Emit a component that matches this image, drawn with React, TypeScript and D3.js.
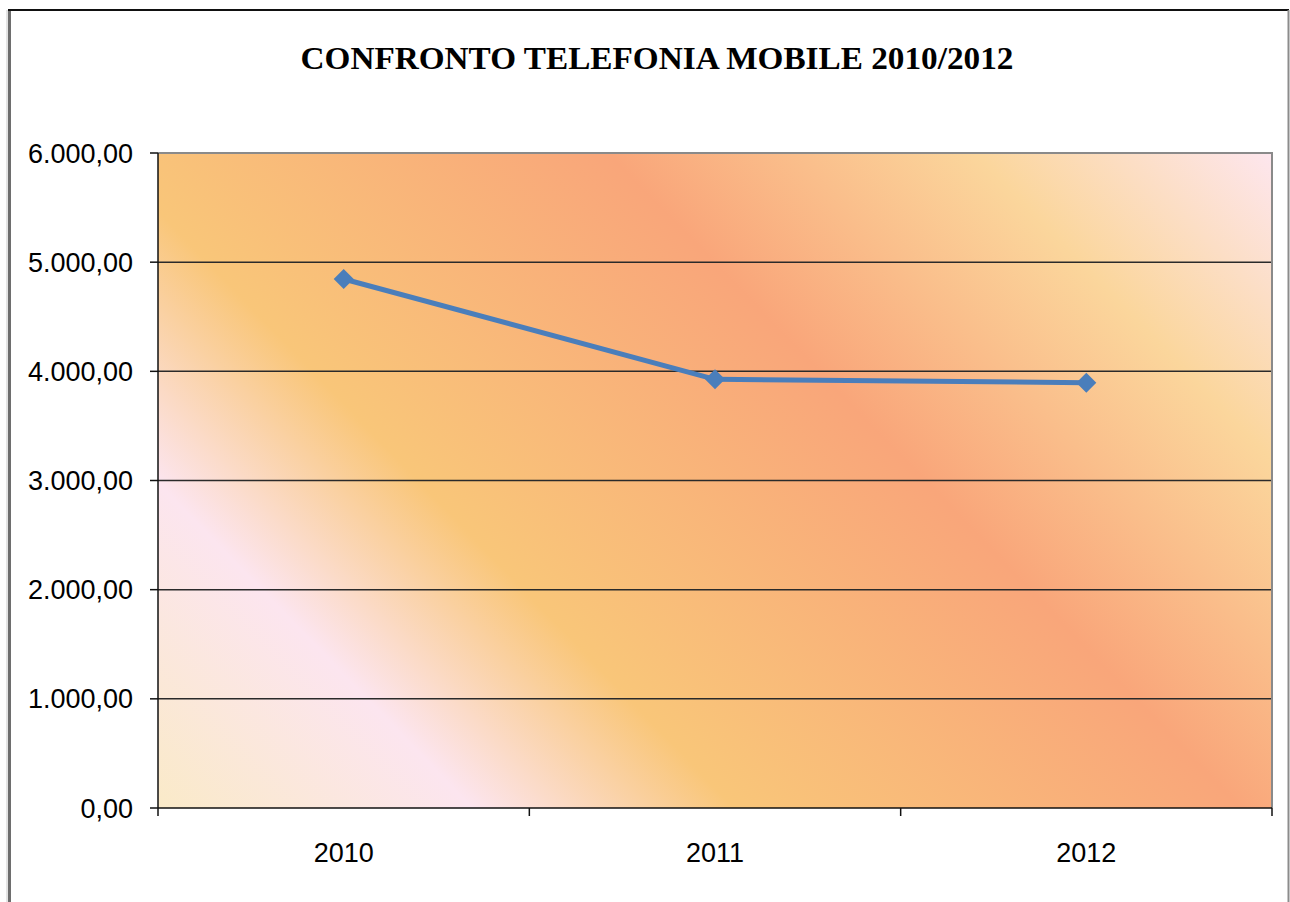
import React from "react";
import * as d3 from "d3";

const title = "CONFRONTO TELEFONIA MOBILE 2010/2012";
const categories = ["2010", "2011", "2012"];
const values = [4846, 3927, 3896];
const yTicks = [0, 1000, 2000, 3000, 4000, 5000, 6000];
const gradientStops = [
  { offset: 0, color: "#FAEAC8" },
  { offset: 0.18, color: "#FCE5EF" },
  { offset: 0.33, color: "#F9C679" },
  { offset: 0.62, color: "#F9A67A" },
  { offset: 0.83, color: "#FBD69C" },
  { offset: 1, color: "#FDE6EE" },
];

const W = 1290;
const H = 902;
const left = 158;
const right = 1272;
const top = 153;
const bottom = 808;

const fmt = (v: number) => {
  const s = v.toFixed(2);
  const [i, d] = s.split(".");
  return i.replace(/\B(?=(\d{3})+(?!\d))/g, ".") + "," + d;
};

export default function App() {
  const x = d3.scaleBand<string>().domain(categories).range([left, right]).padding(0);
  const y = d3.scaleLinear().domain([0, 6000]).range([bottom, top]);
  const cx = (c: string) => (x(c) as number) + x.bandwidth() / 2;
  const line = d3
    .line<number>()
    .x((_, i) => cx(categories[i]))
    .y((v) => y(v));

  const ang = (46 * Math.PI) / 180;
  const dx = Math.sin(ang);
  const dy = -Math.cos(ang);
  const span = dx * (right - left) + -dy * (bottom - top);
  const gx2 = left + dx * span;
  const gy2 = bottom + dy * span;

  const xTickPos = [left, ...categories.map((c) => (x(c) as number) + x.bandwidth())];
  const r = 10;

  return (
    <svg
      width={W}
      height={H}
      style={{ position: "absolute", left: 0, top: 0, background: "#fff" }}
    >
      <defs>
        <linearGradient
          id="bg"
          gradientUnits="userSpaceOnUse"
          x1={left}
          y1={bottom}
          x2={gx2}
          y2={gy2}
        >
          {gradientStops.map((s, i) => (
            <stop key={i} offset={s.offset} stopColor={s.color} />
          ))}
        </linearGradient>
      </defs>
      <line x1={7} y1={10} x2={7} y2={H} stroke="#c8c8c8" strokeWidth={1} />
      <line x1={9.5} y1={10} x2={9.5} y2={H} stroke="#6e6e6e" strokeWidth={3} />
      <line x1={8} y1={10} x2={1289} y2={10} stroke="#111" strokeWidth={2} />
      <line x1={1288.5} y1={10} x2={1288.5} y2={H} stroke="#8c8c8c" strokeWidth={2} />

      <text
        x={657}
        y={69}
        textAnchor="middle"
        fontFamily="'Liberation Serif', 'Times New Roman', serif"
        fontWeight="bold"
        fontSize={32}
        textLength={713}
        lengthAdjust="spacingAndGlyphs"
        fill="#000"
      >
        {title}
      </text>

      <rect x={left} y={top} width={right - left} height={bottom - top} fill="url(#bg)" />
      {yTicks.slice(1, -1).map((t) => (
        <line key={t} x1={left} x2={right} y1={y(t)} y2={y(t)} stroke="#2a2a2a" strokeWidth={1.5} />
      ))}
      <line x1={left} x2={right + 1} y1={top} y2={top} stroke="#8a8a8a" strokeWidth={2} />
      <line x1={right} x2={right} y1={top} y2={bottom} stroke="#8a8a8a" strokeWidth={2} />
      <line x1={left} x2={left} y1={top} y2={bottom} stroke="#111" strokeWidth={1.5} />
      <line x1={left} x2={right} y1={bottom} y2={bottom} stroke="#111" strokeWidth={1.5} />
      {yTicks.map((t) => (
        <g key={t}>
          <line x1={left - 8} x2={left} y1={y(t)} y2={y(t)} stroke="#111" strokeWidth={1.5} />
          <text
            x={133}
            y={y(t) + 9.5}
            textAnchor="end"
            fontFamily="'Liberation Sans', Arial, sans-serif"
            fontSize={27}
            fill="#000"
          >
            {fmt(t)}
          </text>
        </g>
      ))}
      {xTickPos.map((p, i) => (
        <line key={i} x1={p} x2={p} y1={bottom} y2={bottom + 8} stroke="#111" strokeWidth={1.5} />
      ))}
      {categories.map((c) => (
        <text
          key={c}
          x={cx(c)}
          y={862}
          textAnchor="middle"
          fontFamily="'Liberation Sans', Arial, sans-serif"
          fontSize={27}
          fill="#000"
        >
          {c}
        </text>
      ))}

      <path d={line(values) || ""} fill="none" stroke="#4A7EBB" strokeWidth={5} strokeLinejoin="round" />
      {values.map((v, i) => {
        const px = cx(categories[i]);
        const py = y(v);
        return (
          <path
            key={i}
            d={`M${px},${py - r}L${px + r},${py}L${px},${py + r}L${px - r},${py}Z`}
            fill="#4A7EBB"
          />
        );
      })}
    </svg>
  );
}
